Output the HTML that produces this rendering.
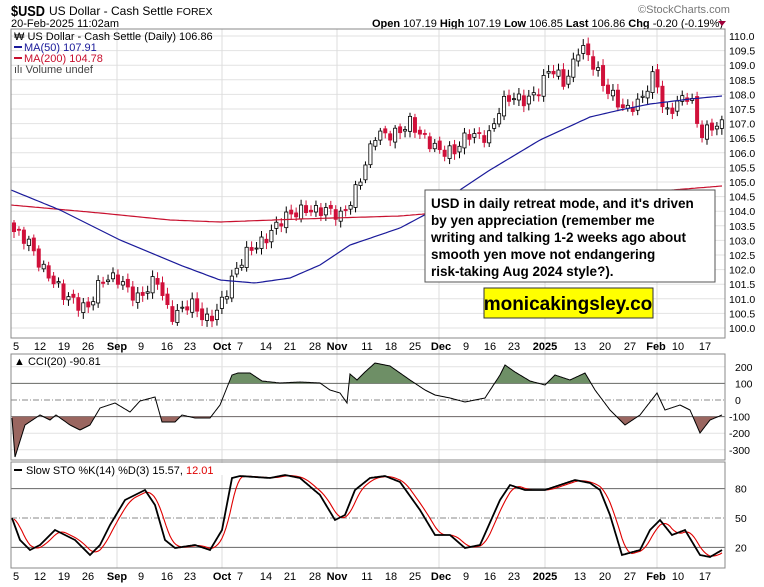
<!DOCTYPE html>
<html><head><meta charset="utf-8"><style>
html,body{margin:0;padding:0;background:#fff;}
svg{display:block;font-family:"Liberation Sans",sans-serif;}
</style></head><body>
<svg id="s" width="764" height="587" viewBox="0 0 764 587" xmlns="http://www.w3.org/2000/svg">
<rect width="764" height="587" fill="#fff"/>
<text x="11" y="16" font-size="15" font-weight="bold" textLength="34" lengthAdjust="spacingAndGlyphs">$USD</text>
<text x="49" y="15" font-size="12">US Dollar - Cash Settle <tspan font-size="10.5">FOREX</tspan></text>
<text x="11" y="27" font-size="11">20-Feb-2025 11:02am</text>
<text x="638" y="13" font-size="11" fill="#777">©StockCharts.com</text>
<text x="372" y="27" font-size="11"><tspan font-weight="bold">Open</tspan> 107.19 <tspan font-weight="bold">High</tspan> 107.19 <tspan font-weight="bold">Low</tspan> 106.85 <tspan font-weight="bold">Last</tspan> 106.86 <tspan font-weight="bold">Chg</tspan> -0.20 (-0.19%)</text>
<polygon points="718,21 726,21 722,26" fill="#a0003a"/>
<g id="g"></g>
</svg>
<script>
const g=document.getElementById('g');let h='';
const L=11,R=725;
function lerp(pts,x){if(x<=pts[0][0])return pts[0][1];for(let i=1;i<pts.length;i++){if(x<=pts[i][0]){const a=pts[i-1],b=pts[i];return a[1]+(b[1]-a[1])*(x-a[0])/(b[0]-a[0]);}}return pts[pts.length-1][1];}
function path(pts,step){let d='';for(let x=pts[0][0];x<=pts[pts.length-1][0];x+=step){d+=(d?'L':'M')+x.toFixed(1)+','+lerp(pts,x).toFixed(1);}return d;}
const months=[117,222,337,439,545,657];
const py=p=>36+(110-p)*29.2;
for(let p=100;p<=110.01;p+=0.5){const y=py(p);h+=`<line x1="${L}" x2="${R}" y1="${y}" y2="${y}" stroke="#e2e2e2"/>`;h+=`<text x="729" y="${y+4}" font-size="10.5">${p.toFixed(1)}</text>`;}
months.forEach(x=>{h+=`<line x1="${x}" x2="${x}" y1="29" y2="568" stroke="#ddd"/>`;});
const P=[[14,103.2],[30,102.9],[40,102.3],[64,101.0],[88,100.8],[100,101.5],[120,101.7],[140,101.0],[157,101.6],[170,100.5],[190,100.8],[205,100.2],[215,100.6],[230,101.5],[250,102.7],[270,103.3],[290,103.8],[305,104.2],[320,104.0],[340,103.8],[350,104.4],[365,105.5],[375,106.5],[390,106.7],[410,107.0],[420,106.5],[440,106.2],[455,106.0],[470,106.6],[490,106.7],[500,107.5],[510,107.8],[525,107.9],[540,108.2],[550,108.8],[565,108.4],[580,109.8],[595,108.8],[605,108.2],[615,108.0],[625,107.5],[640,107.6],[655,108.8],[665,107.4],[675,107.6],[690,107.9],[700,106.7],[712,107.0],[722,106.9]];
let prev=103.6;
for(let i=0;;i++){const x=14+i*4.95;if(x>722)break;
 let c=lerp(P,x)+0.2*Math.sin(i*2.3)+0.12*Math.sin(i*0.7+1);
 const o=prev+0.08*Math.sin(i*1.7);
 const hi=Math.max(o,c)+0.1+0.12*Math.abs(Math.sin(i*3.1));
 const lo=Math.min(o,c)-0.1-0.12*Math.abs(Math.cos(i*2.9));
 const up=c>=o;const col=up?'#000':'#d0103a';
 h+=`<line x1="${x}" x2="${x}" y1="${py(hi)}" y2="${py(lo)}" stroke="${col}"/>`;
 const y1=py(Math.max(o,c)),y2=py(Math.min(o,c));
 h+=`<rect x="${x-1.6}" y="${y1}" width="3.2" height="${Math.max(1,y2-y1)}" fill="${up?'#fff':'#d0103a'}" stroke="${col}" stroke-width="0.8"/>`;
 prev=c;}
const MA50=[[11,190],[60,210],[120,240],[180,265],[220,280],[255,283],[290,278],[320,265],[350,245],[400,228],[430,212],[460,190],[490,170],[540,140],[590,117],[620,110],[650,104],[690,99],[722,96]];
const MA200=[[11,205],[100,213],[170,220],[220,222],[300,219],[400,216],[460,211],[520,203],[600,195],[660,191],[722,186]];
h+=`<path d="${path(MA200,3)}" fill="none" stroke="#c8102e" stroke-width="1.2"/>`;
h+=`<path d="${path(MA50,3)}" fill="none" stroke="#1a1a9a" stroke-width="1.2"/>`;
h+=`<rect x="${L}" y="29" width="${R-L}" height="309" fill="none" stroke="#888"/>`;
h+=`<text x="14" y="40" font-size="11">₩ US Dollar - Cash Settle (Daily) 106.86</text>`;
h+=`<line x1="14" x2="22" y1="47" y2="47" stroke="#1a1a9a" stroke-width="2"/><text x="24" y="51" font-size="11" fill="#1a1a9a">MA(50) 107.91</text>`;
h+=`<line x1="14" x2="22" y1="58" y2="58" stroke="#c8102e" stroke-width="2"/><text x="24" y="62" font-size="11" fill="#c8102e">MA(200) 104.78</text>`;
h+=`<text x="14" y="73" font-size="11" fill="#444">ılı Volume undef</text>`;
h+=`<rect x="425" y="190" width="290" height="92" fill="#fff" stroke="#555"/>`;
["USD in daily retreat mode, and it's driven","by yen appreciation (remember me","writing and talking 1-2 weeks ago about","smooth yen move not endangering","risk-taking Aug 2024 style?)."].forEach((t,i)=>{h+=`<text x="431" y="${208+i*17}" font-size="13.5" font-weight="bold">${t}</text>`;});
h+=`<rect x="484" y="288" width="169" height="30" fill="#ffff00" stroke="#333"/><text x="568" y="310" font-size="19" font-weight="bold" text-anchor="middle">monicakingsley.co</text>`;
const D=[[16,'5'],[40,'12'],[64,'19'],[88,'26'],[117,'Sep',1],[141,'9'],[167,'16'],[190,'23'],[222,'Oct',1],[240,'7'],[266,'14'],[290,'21'],[315,'28'],[337,'Nov',1],[367,'11'],[391,'18'],[415,'25'],[441,'Dec',1],[466,'9'],[490,'16'],[514,'23'],[545,'2025',1],[580,'13'],[605,'20'],[630,'27'],[656,'Feb',1],[678,'10'],[705,'17']];
[350,580].forEach(y=>D.forEach(d=>{h+=`<text x="${d[0]}" y="${y}" font-size="11" text-anchor="middle" ${d[2]?'font-weight="bold"':''}>${d[1]}</text>`;}));
const cy=v=>400-v*0.166;
[[200],[100,1],[0,2],[-100,1],[-200],[-300]].forEach(a=>{const y=cy(a[0]);h+=`<line x1="${L}" x2="${R}" y1="${y}" y2="${y}" stroke="${a[1]==1?'#666':(a[1]==2?'#888':'#e2e2e2')}" ${a[1]==2?'stroke-dasharray="6,2,1,2"':''}/>`;h+=`<text x="${a[0]<0?729:735}" y="${y+4}" font-size="10.5">${a[0]}</text>`;});
const C=[[12,418],[15,457],[25,425],[40,415],[50,420],[56,415],[70,425],[80,430],[90,425],[100,408],[115,403],[130,412],[140,401],[155,397],[162,422],[175,422],[182,415],[195,418],[210,418],[220,405],[232,375],[238,373],[250,373],[262,381],[280,383],[300,382],[320,383],[330,390],[340,393],[347,403],[350,374],[357,380],[365,372],[375,363],[390,366],[410,380],[425,390],[435,395],[450,398],[465,402],[485,398],[500,375],[505,365],[515,372],[530,381],[545,385],[555,375],[570,380],[585,373],[595,390],[610,410],[625,425],[640,415],[657,393],[665,410],[680,405],[690,410],[700,433],[710,420],[722,415]];
const cd=path(C,1);
h+=`<defs><clipPath id="ca"><rect x="0" y="300" width="764" height="${cy(100)-300}"/></clipPath><clipPath id="cb"><rect x="0" y="${cy(-100)}" width="764" height="60"/></clipPath></defs>`;
h+=`<path d="${cd}L722,${cy(100)}L12,${cy(100)}Z" fill="#6e8f66" clip-path="url(#ca)"/>`;
h+=`<path d="${cd}L722,${cy(-100)}L12,${cy(-100)}Z" fill="#9a6660" clip-path="url(#cb)"/>`;
h+=`<path d="${cd}" fill="none" stroke="#000" stroke-width="1"/>`;
h+=`<rect x="${L}" y="354" width="${R-L}" height="106" fill="none" stroke="#888"/>`;
h+=`<text x="14" y="365" font-size="11">▲ CCI(20) -90.81</text>`;
const sy=v=>567-v*0.98;
[[80,1],[50,2],[20,1]].forEach(a=>{const y=sy(a[0]);h+=`<line x1="${L}" x2="${R}" y1="${y}" y2="${y}" stroke="${a[1]==1?'#666':'#888'}" ${a[1]==2?'stroke-dasharray="6,2,1,2"':''}/><text x="735" y="${y+4}" font-size="10.5">${a[0]}</text>`;});
const K=[[12,518],[20,540],[30,550],[40,545],[55,530],[75,540],[90,555],[100,545],[110,525],[125,500],[145,490],[155,505],[165,540],[175,548],[195,545],[210,550],[222,530],[232,478],[240,476],[270,478],[285,475],[300,478],[320,495],[335,520],[345,515],[355,490],[370,478],[385,476],[400,482],[420,510],[435,535],[450,535],[465,548],[480,545],[500,500],[510,485],[525,490],[545,490],[560,485],[575,480],[590,483],[600,490],[610,515],[622,555],[640,550],[650,530],[660,520],[672,535],[685,530],[700,555],[710,557],[722,550]];
let dd='';for(let x=14;x<=722;x+=2){let s=0;for(let k=0;k<5;k++)s+=lerp(K,x-k*2.5);dd+=(dd?'L':'M')+x+','+(s/5).toFixed(1);}
h+=`<path d="${dd}" fill="none" stroke="#e00000" stroke-width="1.1"/>`;
h+=`<path d="${path(K,1)}" fill="none" stroke="#000" stroke-width="1.8"/>`;
h+=`<rect x="${L}" y="462" width="${R-L}" height="106" fill="none" stroke="#888"/>`;
h+=`<rect x="12" y="463" width="240" height="12" fill="#fff"/>`;
h+=`<line x1="14" x2="22" y1="470" y2="470" stroke="#000" stroke-width="2"/><text x="26" y="474" font-size="11">Slow STO %K(14) %D(3) 15.57, <tspan fill="#e00000">12.01</tspan></text>`;
g.innerHTML=h;
</script>
</body></html>
